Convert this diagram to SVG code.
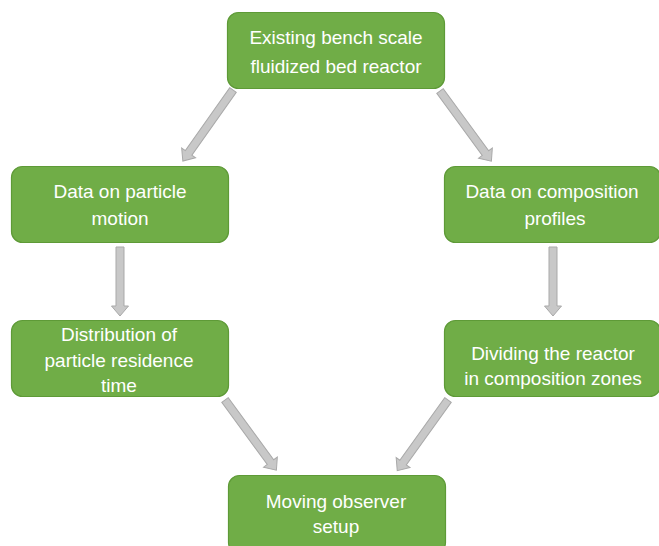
<svg xmlns="http://www.w3.org/2000/svg" width="659" height="546" viewBox="0 0 659 546">
  <style>
    .box { fill: #70ad47; stroke: #5e9a37; stroke-width: 1.2; }
    .lbl { font-family: "Liberation Sans", Arial, sans-serif; font-size: 19px; fill: #ffffff; text-anchor: middle; }
    .arr { fill: #c8c8c8; stroke: #a9a9a9; stroke-width: 1; }
  </style>
  <defs>
    <!-- block arrow pointing down along +y, long and short variants -->
    <path id="arrowLong" class="arr" d="M -4,0 L 4,0 L 4,77 L 8.5,77 L 0,87 L -8.5,77 L -4,77 Z"/>
    <path id="arrowShort" class="arr" d="M -4,0 L 4,0 L 4,59 L 8.5,59 L 0,69 L -8.5,59 L -4,59 Z"/>
  </defs>
  <rect width="659" height="546" fill="#ffffff"/>

  <g id="connectors">
    <use href="#arrowLong" transform="translate(233,90) rotate(35.2)"/>
    <use href="#arrowLong" transform="translate(440,91) rotate(-36.2)"/>
    <use href="#arrowShort" transform="translate(120,247)"/>
    <use href="#arrowShort" transform="translate(553,247)"/>
    <use href="#arrowLong" transform="translate(225,400) rotate(-36.2)"/>
    <use href="#arrowLong" transform="translate(448,400) rotate(35.7)"/>
  </g>

  <g id="bench-reactor">
    <rect class="box" x="227.5" y="12.5" width="217" height="76" rx="11"/>
    <text class="lbl" x="336" y="44">Existing bench scale</text>
    <text class="lbl" x="336" y="73">fluidized bed reactor</text>
  </g>

  <g id="particle-motion">
    <rect class="box" x="11.5" y="166.5" width="217" height="76" rx="11"/>
    <text class="lbl" x="120" y="198">Data on particle</text>
    <text class="lbl" x="120" y="225">motion</text>
  </g>

  <g id="composition-profiles">
    <rect class="box" x="444.5" y="166.5" width="216" height="76" rx="11"/>
    <text class="lbl" x="552" y="198">Data on composition</text>
    <text class="lbl" x="555" y="225">profiles</text>
  </g>

  <g id="residence-time">
    <rect class="box" x="11.5" y="320.5" width="217" height="76" rx="11"/>
    <text class="lbl" x="119" y="341">Distribution of</text>
    <text class="lbl" x="119" y="367">particle residence</text>
    <text class="lbl" x="119" y="392">time</text>
  </g>

  <g id="composition-zones">
    <rect class="box" x="444.5" y="320.5" width="216" height="76" rx="11"/>
    <text class="lbl" x="553" y="360">Dividing the reactor</text>
    <text class="lbl" x="553" y="385">in composition zones</text>
  </g>

  <g id="moving-observer">
    <rect class="box" x="228.5" y="475.5" width="217" height="78" rx="11"/>
    <text class="lbl" x="336" y="508">Moving observer</text>
    <text class="lbl" x="336" y="533">setup</text>
  </g>
</svg>
